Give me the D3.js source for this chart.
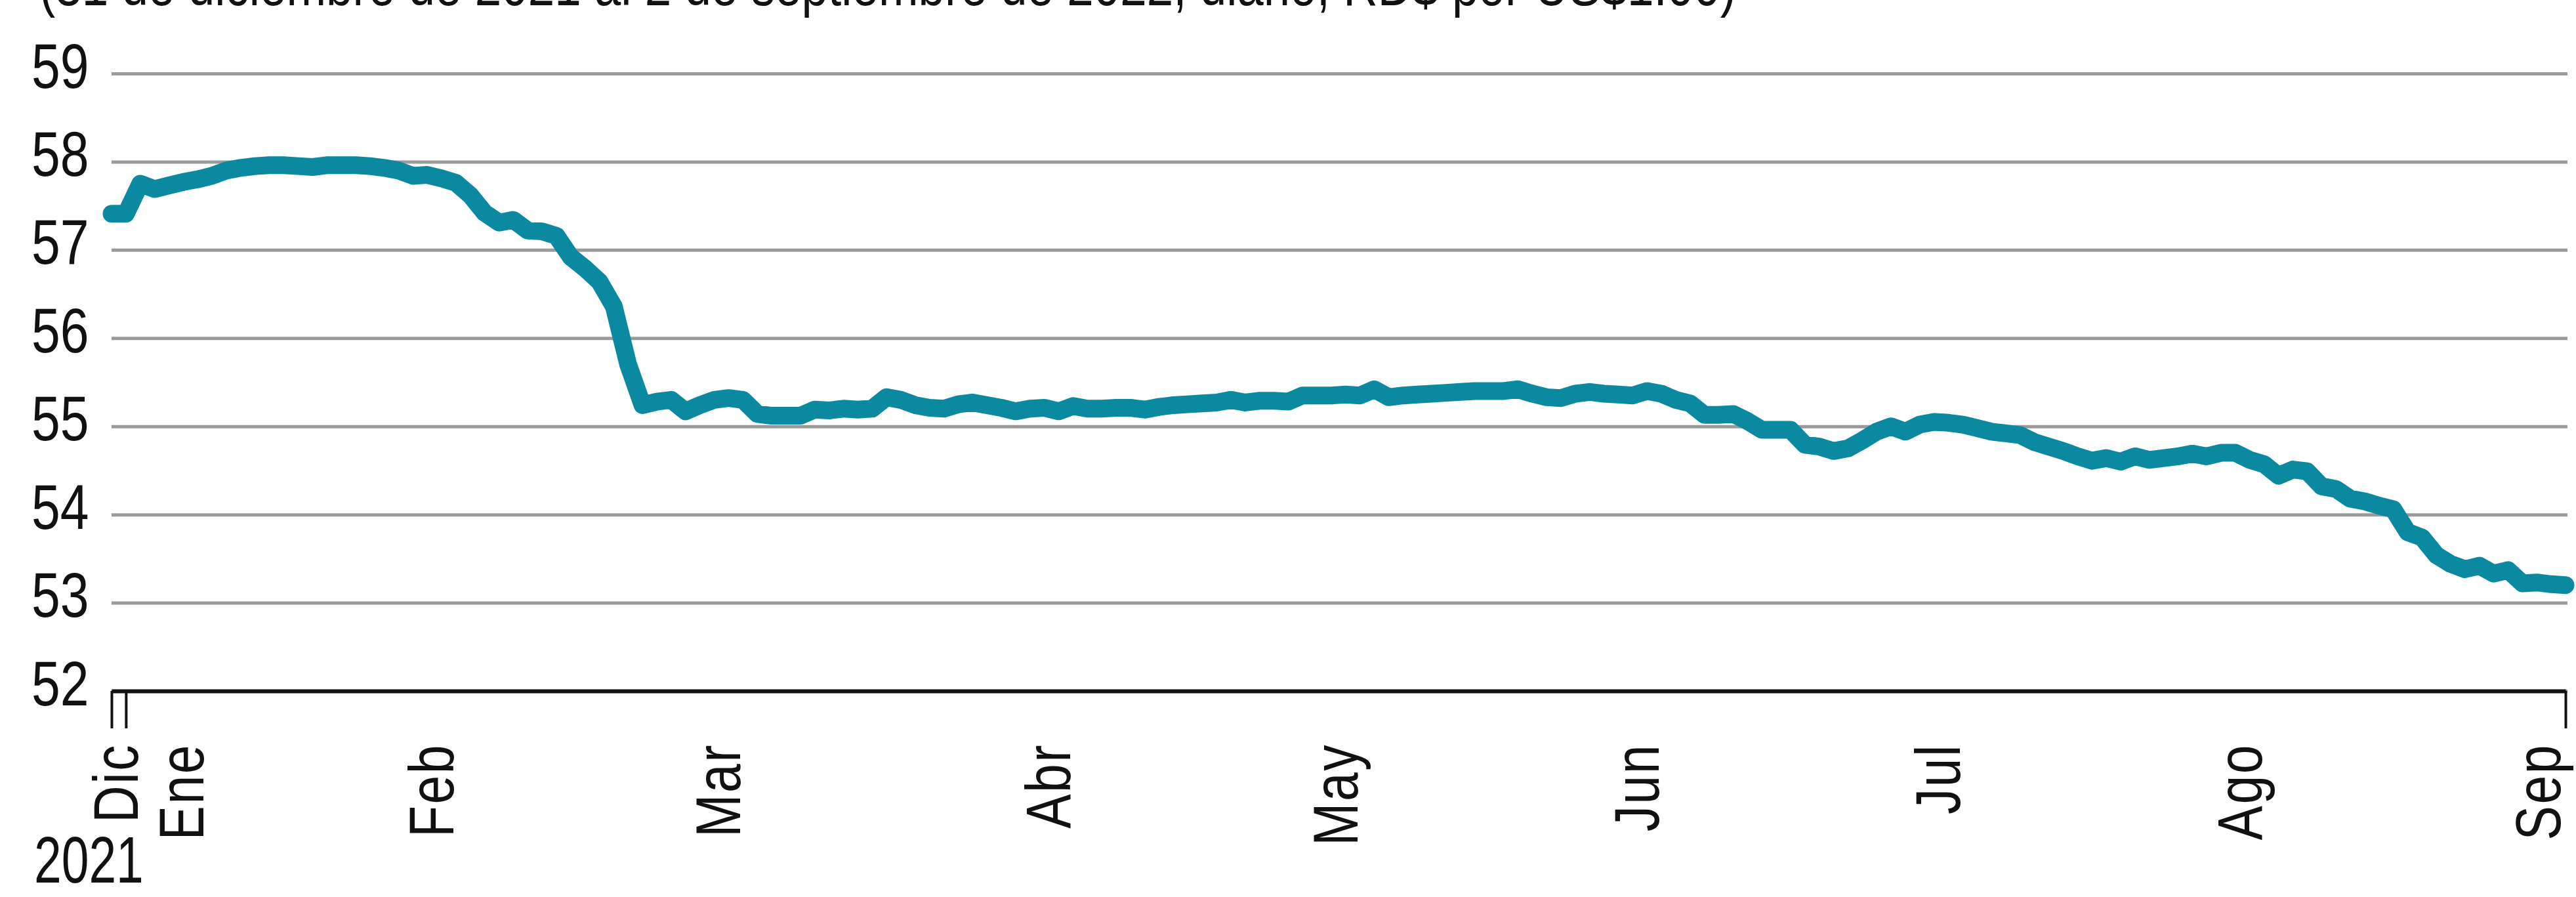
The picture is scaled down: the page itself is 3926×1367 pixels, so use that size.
<!DOCTYPE html>
<html>
<head>
<meta charset="utf-8">
<script src="https://cdn.jsdelivr.net/npm/d3@7"></script>
<style>
  html, body { margin: 0; padding: 0; background: #ffffff; }
  svg { display: block; }
  text { font-family: 'Liberation Sans', Arial, sans-serif; fill: #111111; }
</style>
</head>
<body>
<div id="chart"></div>
<script>
(function () {
  'use strict';
  /* global d3 */

  var w = 3926,
      h = 1367,
      narrow = 0.82;

  var subtitle = '(31 de diciembre de 2021 al 2 de septiembre de 2022, diario, RD$ por US$1.00)';

  // tasa diaria, una por dia habil (31 dic 2021 .. 2 sep 2022)
  var rate = [
    57.41, 57.41, 57.75, 57.69, 57.73, 57.77, 57.80, 57.84, 57.90, 57.93,
    57.95, 57.96, 57.96, 57.95, 57.94, 57.96, 57.96, 57.96, 57.95, 57.93,
    57.90, 57.84, 57.85, 57.81, 57.76, 57.62, 57.42, 57.31, 57.34, 57.22,
    57.21, 57.16, 56.92, 56.79, 56.64, 56.36, 55.70, 55.24, 55.28, 55.30,
    55.17, 55.24, 55.30, 55.32, 55.30, 55.14, 55.12, 55.12, 55.12, 55.19,
    55.18, 55.20, 55.19, 55.20, 55.33, 55.30, 55.24, 55.21, 55.20, 55.25,
    55.27, 55.24, 55.21, 55.17, 55.20, 55.21, 55.17, 55.23, 55.20, 55.20,
    55.21, 55.21, 55.19, 55.22, 55.24, 55.25, 55.26, 55.27, 55.30, 55.27,
    55.29, 55.29, 55.28, 55.35, 55.35, 55.35, 55.36, 55.35, 55.42, 55.33,
    55.35, 55.36, 55.37, 55.38, 55.39, 55.40, 55.40, 55.40, 55.42, 55.37,
    55.33, 55.32, 55.37, 55.39, 55.37, 55.36, 55.35, 55.40, 55.37, 55.30,
    55.26, 55.13, 55.13, 55.14, 55.06, 54.96, 54.96, 54.96, 54.79, 54.77,
    54.72, 54.75, 54.84, 54.94, 55.00, 54.94, 55.02, 55.05, 55.04, 55.02,
    54.98, 54.94, 54.92, 54.90, 54.82, 54.77, 54.72, 54.66, 54.61, 54.64,
    54.60, 54.66, 54.62, 54.64, 54.66, 54.69, 54.66, 54.70, 54.70, 54.62,
    54.57, 54.44, 54.51, 54.49, 54.32, 54.29, 54.18, 54.15, 54.10, 54.06,
    53.80, 53.74, 53.54, 53.44, 53.38, 53.42, 53.33, 53.37, 53.22, 53.23,
    53.21, 53.20
  ];

  var months = ['Dic', 'Ene', 'Feb', 'Mar', 'Abr', 'May', 'Jun', 'Jul', 'Ago', 'Sep'];
  var monthIdx = [0, 1, 22, 42, 65, 85, 106, 127, 148, 170];
  var yearLabel = '2021';
  var yTicks = [52, 53, 54, 55, 56, 57, 58, 59];

  var left = 170, right = 3910, top = 112, bottom = 1053;
  var labelSize = 96;

  var svg = d3.select('#chart')
    .append('svg')
    .attr('width', w)
    .attr('height', h);

  svg.append('rect')
    .attr('width', w)
    .attr('height', h)
    .attr('fill', '#ffffff');

  var x = d3.scaleLinear()
    .domain([0, rate.length - 1])
    .range([left, right]);

  var y = d3.scaleLinear()
    .domain([52, 59])
    .range([bottom, top]);

  // subtitulo (recortado arriba, como en el original)
  var sub = svg.append('text')
    .attr('x', 60 / narrow)
    .attr('y', 8)
    .attr('font-size', 80)
    .attr('transform', 'scale(' + narrow + ',1)')
    .text(subtitle);
  var subLen = sub.node().getComputedTextLength();
  sub.attr('font-size', 80 * (2586 / narrow) / subLen);

  // grid + etiquetas eje y
  var yAxis = svg.append('g')
    .attr('transform', 'translate(' + left + ',0)')
    .call(d3.axisLeft(y)
      .tickValues(yTicks)
      .tickSize(-(right + 3 - left))
      .tickPadding(0)
      .tickFormat(d3.format('d')));

  yAxis.select('.domain').remove();
  yAxis.selectAll('.tick line')
    .attr('stroke', '#9a9a9a')
    .attr('stroke-width', 5);
  yAxis.selectAll('.tick text')
    .attr('text-anchor', 'start')
    .attr('transform', 'scale(' + narrow + ',1)')
    .attr('x', (48 - left) / narrow)
    .attr('dy', 21)
    .attr('font-size', labelSize)
    .attr('font-family', "'Liberation Sans', Arial, sans-serif")
    .attr('fill', '#111111');

  // eje x
  var xAxis = svg.append('g')
    .attr('transform', 'translate(0,' + bottom + ')')
    .call(d3.axisBottom(x)
      .tickValues([0, 1, rate.length - 1])
      .tickSizeInner(57)
      .tickSizeOuter(0)
      .tickFormat(''));

  xAxis.select('.domain')
    .attr('stroke', '#111111')
    .attr('stroke-width', 6);
  xAxis.selectAll('.tick line')
    .attr('stroke', '#111111')
    .attr('stroke-width', 4);

  // etiquetas de meses, rotadas; se empujan si chocan y no salen del lienzo
  var labelPos = [];
  var maxPos = w - 4 - 0.57 * labelSize;
  monthIdx.forEach(function (d, i) {
    var p = x(d) + 5;
    if (i > 0 && p < labelPos[i - 1] + 100) { p = labelPos[i - 1] + 100; }
    labelPos.push(Math.min(p, maxPos));
  });

  svg.selectAll('text.month')
    .data(months)
    .enter()
    .append('text')
    .attr('class', 'month')
    .attr('transform', function (d, i) {
      return 'translate(' + labelPos[i] + ',1133) rotate(-90) scale(' + narrow + ',1)';
    })
    .attr('text-anchor', 'end')
    .attr('dy', '0.36em')
    .attr('font-size', labelSize)
    .attr('letter-spacing', 3)
    .text(function (d) { return d; });

  svg.append('text')
    .attr('transform', 'scale(0.75,1)')
    .attr('x', 52 / 0.75)
    .attr('y', 1345)
    .attr('font-size', 100)
    .text(yearLabel);

  // linea
  var lineFun = d3.line()
    .x(function (d, i) { return x(i); })
    .y(function (d) { return y(d); });

  svg.append('path')
    .attr('d', lineFun(rate))
    .attr('fill', 'none')
    .attr('stroke', '#0a89a0')
    .attr('stroke-width', 27)
    .attr('stroke-linejoin', 'round')
    .attr('stroke-linecap', 'round');

}());
</script>
</body>
</html>
